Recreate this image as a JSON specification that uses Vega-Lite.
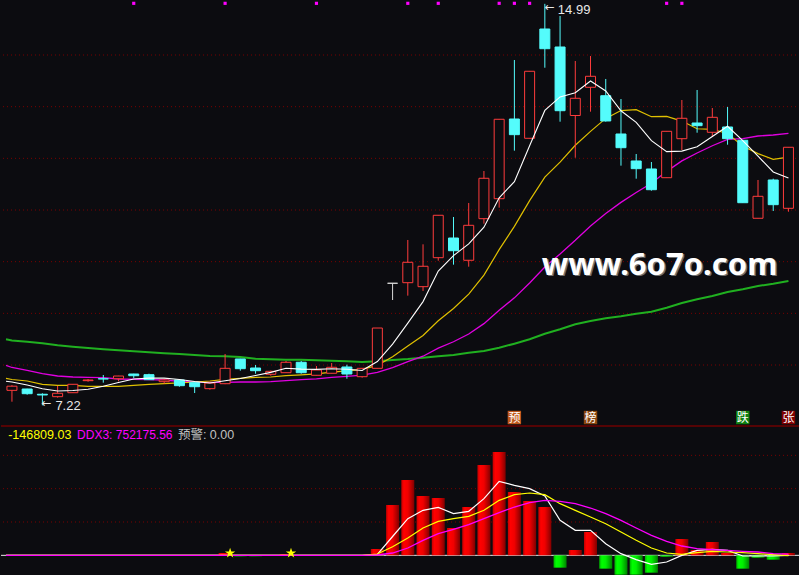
{
  "$schema": "https://vega.github.io/schema/vega-lite/v6.json",
  "background": "#0c0c10",
  "padding": 0,
  "spacing": 0,
  "config": {"view": {"stroke": null}, "concat": {"spacing": 0}},
  "datasets": {
    "k": [
      {"i":-0.39,"m5":7.685,"m10":7.743,"m20":7.995,"m60":8.498},
      {"i":0,"o":7.51,"h":7.61,"l":7.29,"c":7.59,"m5":7.671,"m10":7.72,"m20":7.952,"m60":8.475},
      {"i":1,"o":7.536,"h":7.54,"l":7.426,"c":7.445,"m5":7.613,"m10":7.691,"m20":7.898,"m60":8.451},
      {"i":2,"o":7.434,"h":7.453,"l":7.22,"c":7.42,"m5":7.542,"m10":7.627,"m20":7.832,"m60":8.42},
      {"i":3,"o":7.387,"h":7.594,"l":7.368,"c":7.453,"m5":7.497,"m10":7.607,"m20":7.787,"m60":8.382},
      {"i":4,"o":7.464,"h":7.63,"l":7.46,"c":7.627,"m5":7.507,"m10":7.607,"m20":7.768,"m60":8.355},
      {"i":5,"o":7.697,"h":7.729,"l":7.677,"c":7.71,"m5":7.531,"m10":7.588,"m20":7.762,"m60":8.329},
      {"i":6,"o":7.735,"h":7.807,"l":7.658,"c":7.73,"m5":7.588,"m10":7.588,"m20":7.755,"m60":8.304},
      {"i":7,"o":7.735,"h":7.79,"l":7.685,"c":7.787,"m5":7.661,"m10":7.588,"m20":7.729,"m60":8.285},
      {"i":8,"o":7.826,"h":7.83,"l":7.749,"c":7.793,"m5":7.729,"m10":7.607,"m20":7.724,"m60":8.266},
      {"i":9,"o":7.813,"h":7.832,"l":7.716,"c":7.716,"m5":7.747,"m10":7.627,"m20":7.716,"m60":8.246},
      {"i":10,"o":7.677,"h":7.735,"l":7.638,"c":7.71,"m5":7.747,"m10":7.639,"m20":7.71,"m60":8.227},
      {"i":11,"o":7.71,"h":7.712,"l":7.58,"c":7.6,"m5":7.721,"m10":7.655,"m20":7.685,"m60":8.213},
      {"i":12,"o":7.658,"h":7.66,"l":7.458,"c":7.58,"m5":7.68,"m10":7.671,"m20":7.671,"m60":8.194},
      {"i":13,"o":7.542,"h":7.655,"l":7.523,"c":7.652,"m5":7.652,"m10":7.691,"m20":7.665,"m60":8.175},
      {"i":14,"o":7.638,"h":8.213,"l":7.63,"c":7.936,"m5":7.696,"m10":7.721,"m20":7.665,"m60":8.169},
      {"i":15,"o":8.117,"h":8.12,"l":7.89,"c":7.929,"m5":7.739,"m10":7.743,"m20":7.671,"m60":8.155},
      {"i":16,"o":7.942,"h":8.0,"l":7.832,"c":7.89,"m5":7.797,"m10":7.759,"m20":7.671,"m60":8.122},
      {"i":17,"o":7.82,"h":7.89,"l":7.793,"c":7.878,"m5":7.857,"m10":7.768,"m20":7.677,"m60":8.111},
      {"i":18,"o":7.851,"h":8.078,"l":7.85,"c":8.053,"m5":7.937,"m10":7.794,"m20":7.696,"m60":8.103},
      {"i":19,"o":8.053,"h":8.078,"l":7.832,"c":7.851,"m5":7.92,"m10":7.808,"m20":7.718,"m60":8.103},
      {"i":20,"o":7.801,"h":7.981,"l":7.8,"c":7.904,"m5":7.915,"m10":7.827,"m20":7.733,"m60":8.091},
      {"i":21,"o":7.84,"h":8.039,"l":7.84,"c":7.956,"m5":7.928,"m10":7.863,"m20":7.759,"m60":8.084},
      {"i":22,"o":7.962,"h":8.006,"l":7.735,"c":7.826,"m5":7.918,"m10":7.888,"m20":7.779,"m60":8.072},
      {"i":23,"o":7.774,"h":7.94,"l":7.755,"c":7.936,"m5":7.895,"m10":7.916,"m20":7.803,"m60":8.058},
      {"i":24,"o":7.936,"h":8.716,"l":7.936,"c":8.716,"m5":8.068,"m10":7.994,"m20":7.858,"m60":8.075},
      {"i":25,"o":9.582,"h":9.582,"l":9.258,"c":9.582,"m5":8.403,"m10":8.159,"m20":7.951,"m60":8.097},
      {"i":26,"o":9.593,"h":10.42,"l":9.342,"c":9.988,"m5":8.81,"m10":8.369,"m20":8.064,"m60":8.116},
      {"i":27,"o":9.516,"h":10.336,"l":9.433,"c":9.911,"m5":9.227,"m10":8.572,"m20":8.17,"m60":8.142},
      {"i":28,"o":10.077,"h":10.898,"l":10.019,"c":10.898,"m5":9.819,"m10":8.857,"m20":8.326,"m60":8.169},
      {"i":29,"o":10.458,"h":10.865,"l":9.942,"c":10.212,"m5":10.118,"m10":9.093,"m20":8.45,"m60":8.194},
      {"i":30,"o":10.027,"h":11.136,"l":9.903,"c":10.704,"m5":10.343,"m10":9.373,"m20":8.6,"m60":8.238},
      {"i":31,"o":10.832,"h":11.755,"l":10.735,"c":11.614,"m5":10.668,"m10":9.739,"m20":8.801,"m60":8.271},
      {"i":32,"o":11.219,"h":12.756,"l":11.045,"c":12.756,"m5":11.237,"m10":10.232,"m20":9.06,"m60":8.335},
      {"i":33,"o":12.761,"h":13.903,"l":12.148,"c":12.458,"m5":11.549,"m10":10.684,"m20":9.3,"m60":8.413},
      {"i":34,"o":12.388,"h":13.685,"l":12.388,"c":13.685,"m5":12.243,"m10":11.181,"m20":9.587,"m60":8.498},
      {"i":35,"o":14.503,"h":14.99,"l":13.754,"c":14.122,"m5":12.927,"m10":11.635,"m20":9.897,"m60":8.606},
      {"i":36,"o":14.155,"h":14.755,"l":12.709,"c":12.922,"m5":13.189,"m10":11.928,"m20":10.149,"m60":8.691},
      {"i":37,"o":12.829,"h":13.884,"l":12.012,"c":13.162,"m5":13.27,"m10":12.253,"m20":10.413,"m60":8.788},
      {"i":38,"o":13.375,"h":13.98,"l":12.903,"c":13.588,"m5":13.496,"m10":12.522,"m20":10.69,"m60":8.852},
      {"i":39,"o":13.212,"h":13.536,"l":12.71,"c":12.723,"m5":13.303,"m10":12.773,"m20":10.933,"m60":8.904},
      {"i":40,"o":12.471,"h":13.148,"l":11.858,"c":12.206,"m5":12.92,"m10":12.924,"m20":11.148,"m60":8.943},
      {"i":41,"o":11.949,"h":12.084,"l":11.606,"c":11.8,"m5":12.696,"m10":12.942,"m20":11.34,"m60":8.993},
      {"i":42,"o":11.794,"h":11.929,"l":11.374,"c":11.393,"m5":12.342,"m10":12.806,"m20":11.519,"m60":9.032},
      {"i":43,"o":11.625,"h":12.523,"l":11.625,"c":12.523,"m5":12.129,"m10":12.812,"m20":11.748,"m60":9.109},
      {"i":44,"o":12.38,"h":13.129,"l":12.161,"c":12.775,"m5":12.139,"m10":12.721,"m20":11.951,"m60":9.2},
      {"i":45,"o":12.684,"h":13.323,"l":12.496,"c":12.632,"m5":12.225,"m10":12.572,"m20":12.104,"m60":9.272},
      {"i":46,"o":12.504,"h":12.974,"l":12.413,"c":12.794,"m5":12.423,"m10":12.56,"m20":12.244,"m60":9.336},
      {"i":47,"o":12.607,"h":12.994,"l":12.264,"c":12.38,"m5":12.621,"m10":12.481,"m20":12.367,"m60":9.413},
      {"i":48,"o":12.349,"h":12.349,"l":11.141,"c":11.141,"m5":12.344,"m10":12.237,"m20":12.38,"m60":9.465},
      {"i":49,"o":10.84,"h":11.581,"l":10.84,"c":11.265,"m5":12.042,"m10":12.091,"m20":12.432,"m60":9.529},
      {"i":50,"o":11.581,"h":11.606,"l":10.981,"c":11.103,"m5":11.737,"m10":11.981,"m20":12.452,"m60":9.574},
      {"i":51,"o":11.033,"h":12.214,"l":10.967,"c":12.214,"m5":11.621,"m10":12.022,"m20":12.482,"m60":9.626}
    ],
    "d": [
      {"i":-0.39,"v":0,"w":0,"y":0,"m":0},
      {"i":0,"v":0,"w":0,"y":0,"m":0},{"i":1,"v":0,"w":0,"y":0,"m":0},{"i":2,"v":0,"w":0,"y":0,"m":0},
      {"i":3,"v":0,"w":0,"y":0,"m":0},{"i":4,"v":0,"w":0,"y":0,"m":0},{"i":5,"v":0,"w":0,"y":0,"m":0},
      {"i":6,"v":0,"w":0,"y":0,"m":0},{"i":7,"v":0,"w":0,"y":0,"m":0},{"i":8,"v":0,"w":0,"y":0,"m":0},
      {"i":9,"v":0,"w":0,"y":0,"m":0},{"i":10,"v":0,"w":0,"y":0,"m":0},{"i":11,"v":0,"w":0,"y":0,"m":0},
      {"i":12,"v":0,"w":0,"y":0,"m":0},{"i":13,"v":0,"w":0,"y":0,"m":0},{"i":14,"v":1.4,"w":0,"y":0,"m":0},
      {"i":15,"v":-0.6,"w":0,"y":0,"m":0},{"i":16,"v":-0.6,"w":0,"y":0,"m":0},{"i":17,"v":0,"w":0,"y":0,"m":0},
      {"i":18,"v":0.8,"w":0,"y":0,"m":0},{"i":19,"v":0,"w":0,"y":0,"m":0},{"i":20,"v":0,"w":0,"y":0,"m":0},
      {"i":21,"v":0,"w":0,"y":0,"m":0},{"i":22,"v":0,"w":0,"y":0,"m":0},{"i":23,"v":0,"w":0,"y":0,"m":0},
      {"i":24,"v":3.8,"w":0.5,"y":0.8,"m":0.2},
      {"i":25,"v":30.2,"w":11.3,"y":5.2,"m":1.4},
      {"i":26,"v":45.2,"w":22.0,"y":10.4,"m":4.4},
      {"i":27,"v":35.6,"w":27.0,"y":16.4,"m":9.0},
      {"i":28,"v":34.4,"w":28.8,"y":20.4,"m":13.0},
      {"i":29,"v":16.4,"w":25.0,"y":22.0,"m":15.6},
      {"i":30,"v":29.0,"w":26.4,"y":23.4,"m":18.4},
      {"i":31,"v":54.2,"w":34.0,"y":27.0,"m":22.0},
      {"i":32,"v":62.0,"w":44.4,"y":33.0,"m":25.6},
      {"i":33,"v":38.0,"w":42.0,"y":36.4,"m":29.0},
      {"i":34,"v":32.6,"w":40.0,"y":37.4,"m":31.6},
      {"i":35,"v":29.0,"w":35.6,"y":36.4,"m":33.0},
      {"i":36,"v":-7.4,"w":21.0,"y":31.0,"m":32.4},
      {"i":37,"v":3.2,"w":15.0,"y":27.0,"m":31.0},
      {"i":38,"v":14.0,"w":15.0,"y":23.0,"m":28.4},
      {"i":39,"v":-8.0,"w":7.0,"y":19.0,"m":25.0},
      {"i":40,"v":-11.6,"w":1.0,"y":14.0,"m":21.0},
      {"i":41,"v":-11.6,"w":-2.6,"y":9.0,"m":16.4},
      {"i":42,"v":-10.4,"w":-5.4,"y":4.4,"m":12.0},
      {"i":43,"v":-0.8,"w":-4.0,"y":1.4,"m":8.4},
      {"i":44,"v":9.8,"w":0.0,"y":0.6,"m":5.6},
      {"i":45,"v":3.2,"w":3.0,"y":1.6,"m":4.0},
      {"i":46,"v":8.0,"w":3.6,"y":2.4,"m":3.4},
      {"i":47,"v":1.4,"w":3.0,"y":2.0,"m":3.0},
      {"i":48,"v":-8.0,"w":-0.4,"y":1.6,"m":2.4},
      {"i":49,"v":-1.4,"w":-0.4,"y":1.0,"m":2.0},
      {"i":50,"v":-2.6,"w":-0.4,"y":0.4,"m":1.0},
      {"i":51,"v":1.4,"w":0.0,"y":-0.15,"m":0.75}
    ],
    "sig": [{"i":8},{"i":14},{"i":20},{"i":26},{"i":28},{"i":32},{"i":33},{"i":34},{"i":43},{"i":44}],
    "tags": [{"i":33,"t":"预"},{"i":38,"t":"榜"},{"i":48,"t":"跌"},{"i":51,"t":"张"}],
    "ext": [{"i":35,"p":14.99,"t":"14.99"},{"i":2,"p":7.22,"t":"7.22"}],
    "stars": [{"i":14,"s":1.3},{"i":18,"s":1.3}],
    "grid1": [{"g":8},{"g":9},{"g":10},{"g":11},{"g":12},{"g":13},{"g":14}],
    "grid2": [{"g":20},{"g":40},{"g":60}]
  },
  "vconcat": [
    {
      "width": 799,
      "height": 424,
      "layer": [
        {
          "data": {"name": "grid1"},
          "mark": {"type": "rule", "color": "#7a0000", "strokeDash": [1, 3], "strokeWidth": 1},
          "encoding": {"y": {"field": "g", "type": "quantitative", "scale": {"domain": [6.839, 15.045], "nice": false, "zero": false}, "axis": null}}
        },
        {
          "data": {"name": "k"},
          "mark": {"type": "line", "color": "#20b020", "strokeWidth": 2, "clip": true},
          "encoding": {
            "x": {"field": "i", "type": "quantitative", "scale": {"domain": [-0.39, 51.43], "nice": false, "zero": false}, "axis": null},
            "y": {"field": "m60", "type": "quantitative"}
          }
        },
        {
          "data": {"name": "k"},
          "mark": {"type": "line", "color": "#e000e0", "strokeWidth": 1.3, "clip": true},
          "encoding": {"x": {"field": "i", "type": "quantitative"}, "y": {"field": "m20", "type": "quantitative"}}
        },
        {
          "data": {"name": "k"},
          "mark": {"type": "line", "color": "#e0c000", "strokeWidth": 1.2, "clip": true},
          "encoding": {"x": {"field": "i", "type": "quantitative"}, "y": {"field": "m10", "type": "quantitative"}}
        },
        {
          "data": {"name": "k"},
          "mark": {"type": "rule", "strokeWidth": 1},
          "encoding": {
            "x": {"field": "i", "type": "quantitative"},
            "y": {"field": "l", "type": "quantitative"},
            "y2": {"field": "h"},
            "color": {"condition": [{"test": "datum.c == datum.o", "value": "#d8d8d8"}, {"test": "datum.c < datum.o", "value": "#54fcfc"}], "value": "#ff3c3c"}
          }
        },
        {
          "data": {"name": "k"},
          "mark": {"type": "bar", "width": 10, "strokeWidth": 1},
          "encoding": {
            "x": {"field": "i", "type": "quantitative"},
            "y": {"field": "o", "type": "quantitative"},
            "y2": {"field": "c"},
            "fill": {"condition": [{"test": "datum.c == datum.o", "value": "#d8d8d8"}, {"test": "datum.c < datum.o", "value": "#54fcfc"}], "value": "#0c0c10"},
            "stroke": {"condition": [{"test": "datum.c == datum.o", "value": "#d8d8d8"}, {"test": "datum.c < datum.o", "value": "#54fcfc"}], "value": "#ff3c3c"}
          }
        },
        {
          "data": {"name": "k"},
          "mark": {"type": "line", "color": "#ffffff", "strokeWidth": 1.1, "clip": true},
          "encoding": {"x": {"field": "i", "type": "quantitative"}, "y": {"field": "m5", "type": "quantitative"}}
        },
        {
          "data": {"name": "sig"},
          "mark": {"type": "square", "color": "#ff00ff", "filled": true, "size": 10, "opacity": 1},
          "encoding": {"x": {"field": "i", "type": "quantitative"}, "y": {"datum": 15.0, "type": "quantitative"}}
        },
        {
          "data": {"name": "tags"},
          "mark": {"type": "square", "filled": true, "size": 180, "opacity": 1},
          "encoding": {
            "x": {"field": "i", "type": "quantitative"},
            "y": {"datum": 6.984, "type": "quantitative"},
            "color": {"field": "t", "type": "nominal", "scale": {"domain": ["预", "榜", "跌", "张"], "range": ["#c0581c", "#8a4610", "#108010", "#800000"]}, "legend": null}
          }
        },
        {
          "data": {"name": "tags"},
          "mark": {"type": "text", "color": "#ffffff", "font": "Noto Sans CJK SC", "fontSize": 12, "baseline": "middle", "align": "center"},
          "encoding": {"x": {"field": "i", "type": "quantitative"}, "y": {"datum": 6.984, "type": "quantitative"}, "text": {"field": "t"}}
        },
        {
          "data": {"name": "ext"},
          "transform": [{"filter": "datum.i == 35"}],
          "mark": {"type": "text", "text": "←", "color": "#e8e8e8", "font": "DejaVu Sans", "fontSize": 12, "align": "left", "baseline": "middle", "dx": 0, "dy": 3},
          "encoding": {"x": {"field": "i", "type": "quantitative"}, "y": {"field": "p", "type": "quantitative"}}
        },
        {
          "data": {"name": "ext"},
          "transform": [{"filter": "datum.i == 35"}],
          "mark": {"type": "text", "color": "#e8e8e8", "font": "Liberation Sans", "fontSize": 13, "align": "left", "baseline": "middle", "dx": 13, "dy": 6},
          "encoding": {"x": {"field": "i", "type": "quantitative"}, "y": {"field": "p", "type": "quantitative"}, "text": {"field": "t"}}
        },
        {
          "data": {"name": "ext"},
          "transform": [{"filter": "datum.i == 2"}],
          "mark": {"type": "text", "text": "←", "color": "#e8e8e8", "font": "DejaVu Sans", "fontSize": 12, "align": "left", "baseline": "middle", "dx": -1, "dy": -2},
          "encoding": {"x": {"field": "i", "type": "quantitative"}, "y": {"field": "p", "type": "quantitative"}}
        },
        {
          "data": {"name": "ext"},
          "transform": [{"filter": "datum.i == 2"}],
          "mark": {"type": "text", "color": "#e8e8e8", "font": "Liberation Sans", "fontSize": 13, "align": "left", "baseline": "middle", "dx": 13, "dy": 1},
          "encoding": {"x": {"field": "i", "type": "quantitative"}, "y": {"field": "p", "type": "quantitative"}, "text": {"field": "t"}}
        },
        {
          "data": {"values": [{"t": "www.6o7o.com"}]},
          "mark": {"type": "text", "color": "#707070", "font": "Noto Sans", "fontWeight": "bold", "fontSize": 31, "align": "left", "baseline": "middle", "dx": 1.5, "dy": 1.5},
          "encoding": {"x": {"datum": 34.8, "type": "quantitative"}, "y": {"datum": 9.92, "type": "quantitative"}, "text": {"field": "t"}}
        },
        {
          "data": {"values": [{"t": "www.6o7o.com"}]},
          "mark": {"type": "text", "color": "#ffffff", "font": "Noto Sans", "fontWeight": "bold", "fontSize": 31, "align": "left", "baseline": "middle"},
          "encoding": {"x": {"datum": 34.8, "type": "quantitative"}, "y": {"datum": 9.92, "type": "quantitative"}, "text": {"field": "t"}}
        }
      ]
    },
    {
      "width": 799,
      "height": 151,
      "layer": [
        {
          "data": {"name": "grid2"},
          "mark": {"type": "rule", "color": "#7a0000", "strokeDash": [1, 3], "strokeWidth": 1},
          "encoding": {"y": {"field": "g", "type": "quantitative", "scale": {"domain": [-13.0, 77.6], "nice": false, "zero": false}, "axis": null}}
        },
        {
          "data": {"values": [{"z": 0}]},
          "mark": {"type": "rule", "color": "#e8e8e8", "strokeWidth": 1},
          "encoding": {"y": {"field": "z", "type": "quantitative"}}
        },
        {
          "data": {"values": [{"z": 77.6}]},
          "mark": {"type": "rule", "color": "#6e0000", "strokeWidth": 1.5},
          "encoding": {"y": {"field": "z", "type": "quantitative"}}
        },
        {
          "data": {"name": "d"},
          "transform": [{"filter": "datum.v > 0"}],
          "mark": {"type": "bar", "width": 13, "color": {"gradient": "linear", "x1": 0, "y1": 0, "x2": 1, "y2": 0, "stops": [{"offset": 0, "color": "#c00000"}, {"offset": 0.2, "color": "#ff0000"}, {"offset": 0.5, "color": "#f00000"}, {"offset": 0.8, "color": "#b00000"}, {"offset": 1, "color": "#800000"}]}},
          "encoding": {
            "x": {"field": "i", "type": "quantitative", "scale": {"domain": [-0.39, 51.43], "nice": false, "zero": false}, "axis": null},
            "y": {"field": "v", "type": "quantitative"},
            "y2": {"datum": 0}
          }
        },
        {
          "data": {"name": "d"},
          "transform": [{"filter": "datum.v < 0"}],
          "mark": {"type": "bar", "width": 13, "color": {"gradient": "linear", "x1": 0, "y1": 0, "x2": 1, "y2": 0, "stops": [{"offset": 0, "color": "#00b000"}, {"offset": 0.2, "color": "#00ff00"}, {"offset": 0.5, "color": "#00f000"}, {"offset": 0.8, "color": "#00b000"}, {"offset": 1, "color": "#008000"}]}},
          "encoding": {
            "x": {"field": "i", "type": "quantitative"},
            "y": {"field": "v", "type": "quantitative"},
            "y2": {"datum": 0}
          }
        },
        {
          "data": {"name": "d"},
          "mark": {"type": "line", "color": "#ffffff", "strokeWidth": 1.2, "clip": true},
          "encoding": {"x": {"field": "i", "type": "quantitative"}, "y": {"field": "w", "type": "quantitative"}}
        },
        {
          "data": {"name": "d"},
          "mark": {"type": "line", "color": "#ffff00", "strokeWidth": 1.2, "clip": true},
          "encoding": {"x": {"field": "i", "type": "quantitative"}, "y": {"field": "y", "type": "quantitative"}}
        },
        {
          "data": {"name": "d"},
          "mark": {"type": "line", "color": "#ff00ff", "strokeWidth": 1.3, "clip": true},
          "encoding": {"x": {"field": "i", "type": "quantitative"}, "y": {"field": "m", "type": "quantitative"}}
        },
        {
          "data": {"name": "stars"},
          "mark": {"type": "point", "shape": "M0,-1L0.2245,-0.309L0.951,-0.309L0.363,0.118L0.588,0.809L0,0.382L-0.588,0.809L-0.363,0.118L-0.951,-0.309L-0.2245,-0.309Z", "filled": true, "color": "#ffff00", "size": 120, "opacity": 1, "xOffset": 5},
          "encoding": {"x": {"field": "i", "type": "quantitative"}, "y": {"field": "s", "type": "quantitative"}}
        },
        {
          "data": {"values": [{"t": "-146809.03"}]},
          "mark": {"type": "text", "color": "#ffff00", "font": "Liberation Sans", "fontSize": 12.5, "align": "left", "baseline": "middle"},
          "encoding": {"x": {"datum": -0.25, "type": "quantitative"}, "y": {"datum": 72.2, "type": "quantitative"}, "text": {"field": "t"}}
        },
        {
          "data": {"values": [{"t": "DDX3: 752175.56"}]},
          "mark": {"type": "text", "color": "#ff00ff", "font": "Liberation Sans", "fontSize": 12, "align": "left", "baseline": "middle"},
          "encoding": {"x": {"datum": 4.28, "type": "quantitative"}, "y": {"datum": 72.2, "type": "quantitative"}, "text": {"field": "t"}}
        },
        {
          "data": {"values": [{"t": "预警: 0.00"}]},
          "mark": {"type": "text", "color": "#c0c0c0", "font": "Liberation Sans, Noto Sans CJK SC", "fontSize": 12.5, "align": "left", "baseline": "middle"},
          "encoding": {"x": {"datum": 10.9, "type": "quantitative"}, "y": {"datum": 72.2, "type": "quantitative"}, "text": {"field": "t"}}
        }
      ]
    }
  ]
}
